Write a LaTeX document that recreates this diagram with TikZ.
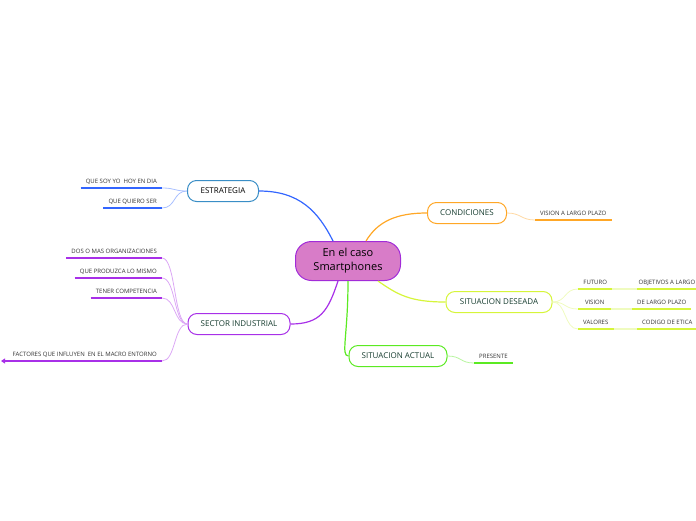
\documentclass[tikz,border=0pt]{standalone}
\usepackage{fontspec}
\setmainfont{Open Sans}
\usetikzlibrary{arrows.meta, positioning}
\usepackage{xcolor}
\definecolor{rootfill}{HTML}{D87CC8}
\definecolor{rootline}{HTML}{A22CD8}
\definecolor{nodetext}{HTML}{173D30}
\definecolor{leaftext}{HTML}{333333}
\definecolor{estline}{HTML}{3A8EC6}
\definecolor{bluebr}{HTML}{3366FF}
\definecolor{bluelt}{HTML}{A9C0FF}
\definecolor{orangebr}{HTML}{FFA726}
\definecolor{orangelt}{HTML}{FFD9A3}
\definecolor{yellowbr}{HTML}{D6F53A}
\definecolor{yellowlt}{HTML}{EFFBBF}
\definecolor{greenbr}{HTML}{5BEA22}
\definecolor{greenlt}{HTML}{B8F5A0}
\definecolor{purplebr}{HTML}{A830E8}
\definecolor{purplelt}{HTML}{DCA8F5}

\begin{document}
\begin{tikzpicture}[x=1pt, y=-1pt,
    root/.style={draw=rootline, fill=rootfill, line width=1pt, rounded corners=16pt, minimum width=105pt, minimum height=39pt, align=center, font=\fontsize{11}{14}\selectfont},
    branch/.style={draw=#1, fill=white, line width=1pt, rounded corners=9pt, minimum height=21pt, text=nodetext, font=\fontsize{8}{9}\selectfont},
    leafl/.style={anchor=south east, inner xsep=5pt, inner ysep=4.5pt, text depth=0pt, text=leaftext, font=\fontsize{6}{7}\selectfont},
    leafr/.style={leafl, anchor=south west},
    link/.style={draw=#1, line width=1.2pt},
    twig/.style={draw=#1, line width=0.8pt},
    uline/.style={draw=#1, line width=1.5pt}]
    \useasboundingbox (0,0) rectangle (696,520);

    \node[root] (root) at (348,261) {En el caso\\Smartphones};

    \node[branch=estline, text=black, minimum width=71pt] (estrategia) at (223,191) {ESTRATEGIA};
    \node[branch=orangebr, minimum width=79pt] (condiciones) at (467,213) {CONDICIONES};
    \node[branch=yellowbr, minimum width=106pt] (deseada) at (499,302) {SITUACION DESEADA};
    \node[branch=greenbr, minimum width=98pt] (actual) at (398,356) {SITUACION ACTUAL};
    \node[branch=purplebr, minimum width=102pt] (sector) at (239,324) {SECTOR INDUSTRIAL};

    \node[leafl] (soy) at (162,188) {QUE SOY YO\ \ HOY EN DIA};
    \node[leafl] (quiero) at (162,208) {QUE QUIERO SER};
    \node[leafl] (dos) at (162,258) {DOS O MAS ORGANIZACIONES};
    \node[leafl] (produzca) at (162,278) {QUE PRODUZCA LO MISMO};
    \node[leafl] (tener) at (162,298) {TENER COMPETENCIA};
    \node[leafl] (factores) at (162,361) {FACTORES QUE INFLUYEN\ \ EN EL MACRO ENTORNO};
    \coordinate (ftip) at (1,361);
    \node[leafr] (plazo) at (535,220) {VISION A LARGO PLAZO};
    \node[leafr, minimum width=34pt] (futuro) at (578,289) {FUTURO};
    \node[leafr, minimum width=33pt] (vision) at (578,309) {VISION};
    \node[leafr, minimum width=35pt] (valores) at (578,329) {VALORES};
    \node[leafr, inner xsep=1.5pt] (objetivos) at (637,289) {OBJETIVOS A LARGO};
    \node[leafr] (dlargo) at (632,309) {DE LARGO PLAZO};
    \node[leafr] (codigo) at (637,329) {CODIGO DE ETICA};
    \node[leafr] (presente) at (474,363) {PRESENTE};

    \draw[link=bluebr] ([xshift=-15pt]root.north) .. controls +(-15,-30) and +(40,0) .. (estrategia.east);
    \draw[link=orangebr] ([xshift=18pt]root.north) .. controls +(12,-20) and +(-30,0) .. (condiciones.west);
    \draw[link=yellowbr] ([xshift=30pt]root.south) .. controls +(20,14) and +(-35,0) .. (deseada.west);
    \draw[link=greenbr] (root.south) .. controls +(0,55) and +(-8,0) .. (actual.west);
    \draw[link=purplebr] ([xshift=-10pt]root.south) .. controls +(-10,30) and +(30,0) .. (sector.east);

    \foreach \n in {soy, quiero}
        \draw[twig=bluelt] (estrategia.west) .. controls +(-14,0) and +(14,0) .. (\n.south east);
    \foreach \n in {dos, produzca, tener, factores}
        \draw[twig=purplelt] (sector.west) .. controls +(-14,0) and +(14,0) .. (\n.south east);
    \foreach \n in {futuro, vision, valores}
        \draw[twig=yellowlt] (deseada.east) .. controls +(14,0) and +(-14,0) .. (\n.south west);
    \draw[twig=orangelt] (condiciones.east) .. controls +(14,0) and +(-14,0) .. (plazo.south west);
    \draw[twig=greenlt] (actual.east) .. controls +(14,0) and +(-14,0) .. (presente.south west);
    \draw[uline=yellowlt] (futuro.south east) -- (objetivos.south west);
    \draw[uline=yellowlt] (vision.south east) -- (dlargo.south west);
    \draw[uline=yellowlt] (valores.south east) -- (codigo.south west);

    \foreach \n in {soy, quiero}
        \draw[uline=bluebr] (\n.south west) -- (\n.south east);
    \foreach \n in {dos, produzca, tener, factores}
        \draw[uline=purplebr] (\n.south west) -- (\n.south east);
    \draw[uline=purplebr, {Triangle[width=5pt, length=4pt]}-] (ftip) -- (factores.south west);
    \foreach \n in {futuro, vision, valores, objetivos, dlargo, codigo}
        \draw[uline=yellowbr] (\n.south west) -- (\n.south east);
    \draw[uline=orangebr] (plazo.south west) -- (plazo.south east);
    \draw[uline=greenbr] (presente.south west) -- (presente.south east);
\end{tikzpicture}
\end{document}
